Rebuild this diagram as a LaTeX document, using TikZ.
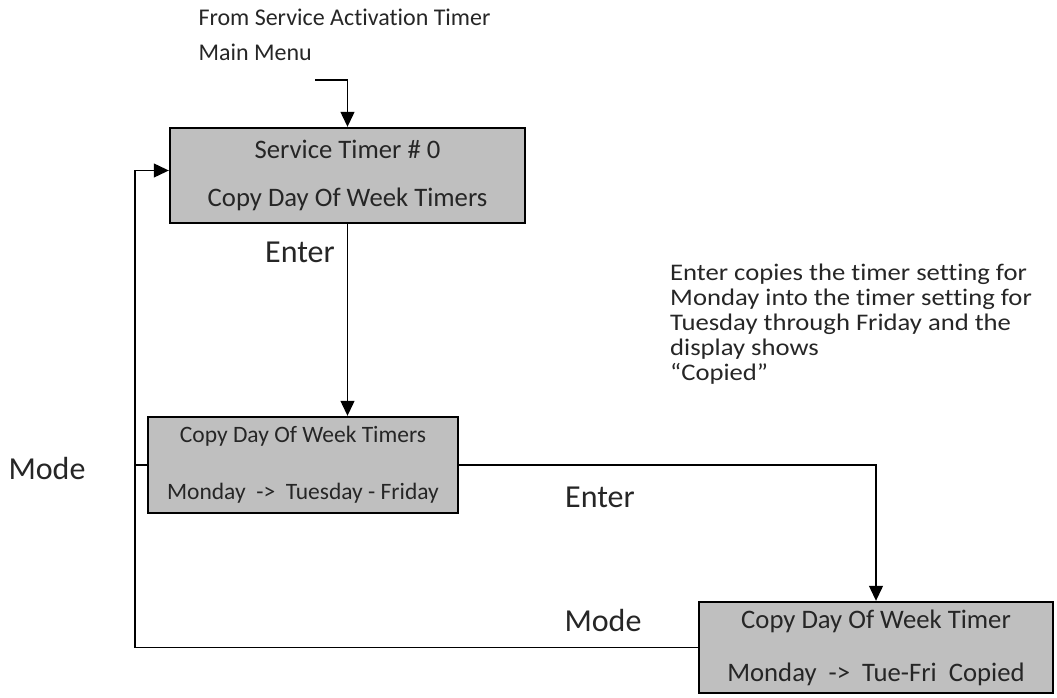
\documentclass[tikz,border=0pt]{standalone}
\usepackage{fontspec}
\setmainfont{Carlito}[Ligatures=NoCommon]
\newfontfamily\notefont{Carlito}[Ligatures=NoCommon,FakeStretch=1.12]
\usetikzlibrary{arrows.meta}

\begin{document}
\begin{tikzpicture}[x=1pt,y=-1pt,
  screen/.style={draw=black,line width=2.4pt,fill=black!25,text=black!85,align=center,inner sep=0pt},
  key/.style={text=black!85,font=\fontsize{32}{36}\selectfont},
  flow/.style={line width=1.2pt,-{Triangle[length=15pt,width=14pt]}}]
\useasboundingbox (0,0) rectangle (1057,698);
% menu screens
\node[screen,minimum width=355pt,minimum height=95pt,font=\fontsize{26.7}{48}\selectfont] (timer) at (347.5,175.5){Service Timer \# 0\\Copy Day Of Week Timers};
\node[screen,minimum width=310pt,minimum height=96pt,font=\fontsize{23.5}{57}\selectfont] (copy) at (303,465){Copy Day Of Week Timers\\Monday\ \ -{}>\ \ Tuesday - Friday};
\node[screen,minimum width=354pt,minimum height=91pt,font=\fontsize{26.7}{53}\selectfont] (copied) at (876,647.5){Copy Day Of Week Timer\\Monday\ \ -{}>\ \ Tue-Fri\ \ Copied};
% entry from main menu
\node[anchor=west,text=black!85,font=\fontsize{24}{35}\selectfont,align=left] (from) at (195,35){From Service Activation Timer\\Main Menu};
\coordinate (in) at (315,80);
\draw[flow] (in) -| (timer.north);
% keys
\draw[flow] (timer.south) -- (timer.south |- copy.north);
\node[key] (enter1) at (300,252){Enter};
\draw[flow] (copy.east) -| (copied.north);
\node[key] (enter2) at (600,497){Enter};
\coordinate (loop) at (135,465);
\draw[line width=1.2pt] (copy.west) -- (loop);
\draw[flow] (copied.west) -| (loop) |- ([yshift=5pt]timer.west);
\node[key] (mode1) at (47,468){Mode};
\node[key] (mode2) at (603,620){Mode};
% note
\node[anchor=north west,text=black!85,align=left,inner sep=0pt,font=\notefont\fontsize{23.8}{25}\selectfont] (note) at (670,264){Enter copies the timer setting for\\Monday into the timer setting for\\Tuesday through Friday and the\\display shows\\“Copied”};
\end{tikzpicture}
\end{document}
